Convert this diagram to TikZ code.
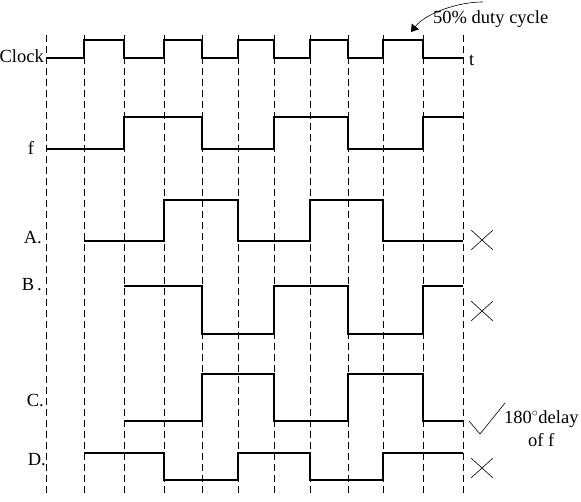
\documentclass[tikz,border=0pt]{standalone}
\usepackage{fontspec}
\setmainfont{Liberation Serif}
\usepackage{tikz}
\usetikzlibrary{arrows.meta,shapes.misc}
\tikzset{
  timing-grid/.style={draw=black, line width=0.8pt, dash pattern=on 7pt off 4pt},
  timing-wave/.style={draw=black, line width=1.2pt},
  timing-label/.style={font=\fontsize{18.5}{21}\selectfont, inner sep=0pt},
  timing-wrong/.style={draw=black, line width=0.6pt, cross out, inner sep=0pt,
    minimum width=21pt, minimum height=19pt},
  timing-right/.style={draw=black, line width=0.6pt},
  timing-note/.style={draw=black, line width=0.6pt}
}

\begin{document}
\begin{tikzpicture}[x=1pt, y=-1pt, >=Latex]
  \useasboundingbox (0,0) rectangle (581,501);
  % clock edges, one dashed line per half period
  \draw[timing-grid] (46,35) -- (46,496);
  \draw[timing-grid] (84,35) -- (84,496);
  \draw[timing-grid] (124,35) -- (124,496);
  \draw[timing-grid] (164,35) -- (164,496);
  \draw[timing-grid] (202,35) -- (202,496);
  \draw[timing-grid] (238,35) -- (238,496);
  \draw[timing-grid] (274,35) -- (274,496);
  \draw[timing-grid] (310,35) -- (310,496);
  \draw[timing-grid] (348,35) -- (348,496);
  \draw[timing-grid] (383,35) -- (383,496);
  \draw[timing-grid] (423,35) -- (423,496);
  \draw[timing-grid] (463,35) -- (463,496);
  % waveforms
  \draw[timing-wave] (46,58) -- (84,58) -- (84,40) -- (124,40) -- (124,58) -- (164,58) -- (164,40) -- (202,40) -- (202,58) -- (238,58) -- (238,40) -- (274,40) -- (274,58) -- (310,58) -- (310,40) -- (348,40) -- (348,58) -- (383,58) -- (383,40) -- (423,40) -- (423,58) -- (463,58);
  \draw[timing-wave] (46,149) -- (124,149) -- (124,117) -- (202,117) -- (202,149) -- (274,149) -- (274,117) -- (348,117) -- (348,149) -- (423,149) -- (423,117) -- (463,117);
  \draw[timing-wave] (84,241) -- (164,241) -- (164,200) -- (238,200) -- (238,241) -- (310,241) -- (310,200) -- (383,200) -- (383,241) -- (463,241);
  \draw[timing-wave] (124,286) -- (202,286) -- (202,334) -- (274,334) -- (274,286) -- (348,286) -- (348,334) -- (423,334) -- (423,286) -- (463,286);
  \draw[timing-wave] (124,421) -- (202,421) -- (202,374) -- (274,374) -- (274,421) -- (348,421) -- (348,374) -- (423,374) -- (423,421) -- (463,421);
  \draw[timing-wave] (84,453) -- (164,453) -- (164,480) -- (238,480) -- (238,453) -- (310,453) -- (310,480) -- (383,480) -- (383,453) -- (463,453);
  % labels
  \node[timing-label, anchor=base east] (clock) at (44,62) {Clock};
  \node[timing-label, anchor=base] (f) at (31,154) {f};
  \node[timing-label, anchor=base east] (optA) at (42,243) {A.};
  \node[timing-label, anchor=base east] (optB) at (42,290) {B\,.};
  \node[timing-label, anchor=base east] (optC) at (44,406) {C.};
  \node[timing-label, anchor=base east] (optD) at (46,465) {D.};
  \node[timing-label, anchor=base west] (time) at (469,65) {t};
  \node[timing-label, anchor=base west] (duty) at (433,23) {50\% duty cycle};
  \coordinate (pulse) at (411,32);
  \draw[timing-note, -{Triangle[width=9pt,length=7pt]}] ([shift={(-8,-8)}]duty.north) .. controls (458,2) and (426,13) .. (pulse);
  % verdicts
  \node[timing-wrong] (wrongA) at (482,240) {};
  \node[timing-wrong] (wrongB) at (482,311) {};
  \node[timing-wrong] (wrongD) at (482,468) {};
  \draw[timing-right] (469,421) -- (480,434) -- (505,403);
  \node[timing-label, anchor=base west] (delay) at (504,423) {180$^{\circ}$delay};
  \node[timing-label, anchor=base west] (off) at (528,446) {of f};
\end{tikzpicture}
\end{document}
